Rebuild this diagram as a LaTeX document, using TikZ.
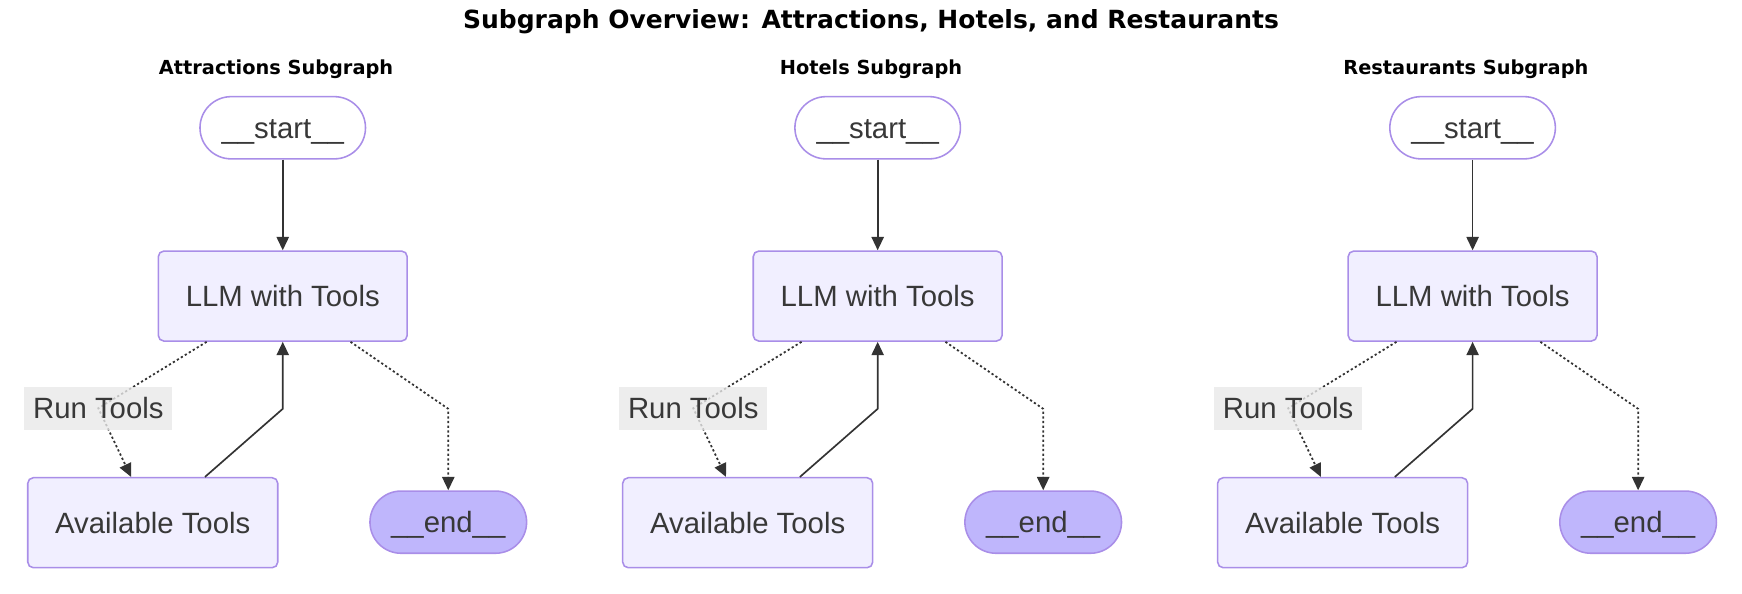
\documentclass[tikz,border=0pt]{standalone}
\usepackage{fontspec}
\setmainfont{Liberation Sans}
\newfontfamily\titlefont{DejaVu Sans}
\usetikzlibrary{arrows.meta,calc}
\definecolor{nodefill}{HTML}{F1EFFF}
\definecolor{nodestroke}{HTML}{A98EE8}
\definecolor{endfill}{HTML}{BFB6FC}
\definecolor{edgecol}{HTML}{333333}
\definecolor{labelbg}{HTML}{E8E8E8}
\definecolor{txt}{HTML}{383838}
\tikzset{
  x=1pt, y=1pt,
  base/.style={draw=nodestroke, line width=1.4pt, text=txt, inner sep=0pt,
    font=\fontsize{26.4}{30}\selectfont, text height=19pt, text depth=0pt},
  boxnode/.style={base, fill=nodefill, rounded corners=5pt, minimum width=224pt, minimum height=81pt},
  startnode/.style={base, fill=white, rounded corners=28pt, minimum width=149pt, minimum height=56pt},
  endnode/.style={base, fill=endfill, rounded corners=28pt, minimum width=141pt, minimum height=56pt},
  lbl/.style={fill=labelbg, fill opacity=0.8, text opacity=1, text=txt, inner sep=0pt,
    minimum width=133pt, minimum height=39pt, font=\fontsize{26.4}{30}\selectfont,
    text height=19pt, text depth=0pt},
  edge/.style={draw=edgecol, line width=1.5pt, -{Triangle[length=12pt,width=11pt]}},
  dotedge/.style={edge, line width=1.6pt, dash pattern=on 2pt off 2.2pt},
  subtitle/.style={font=\titlefont\bfseries\fontsize{17.4}{20}\selectfont, text=black, inner sep=0pt, anchor=base},
}
\newcommand{\subgraphpic}[3]{%
  \begin{scope}[xshift=#1]
    \node[subtitle] (t#2) at (248.5,-67) {#3};
    \node[startnode] (s#2) at (254.5,-115) {\_\_start\_\_};
    \node[boxnode] (l#2) at (254.5,-266.5) {LLM with Tools};
    \node[boxnode, minimum width=225pt] (a#2) at (137.5,-470.5) {Available Tools};
    \node[endnode] (e#2) at (403.5,-470) {\_\_end\_\_};
    \coordinate (b1#2) at (88.5,-367.5);
    \coordinate (b2#2) at (254.5,-368);
    \coordinate (b3#2) at (403.5,-368);
    \draw[edge] (s#2.south) -- (l#2.north);
    \draw[dotedge] ([xshift=-68.5pt]l#2.south) -- (b1#2) -- ([xshift=-19.5pt]a#2.north);
    \draw[edge] ([xshift=47pt]a#2.north) -- (b2#2) -- (l#2.south);
    \draw[dotedge] ([xshift=61pt]l#2.south) -- (b3#2) -- (e#2.north);
    \node[lbl] (r#2) at (b1#2) {Run Tools};
  \end{scope}}
\begin{document}
\begin{tikzpicture}
\useasboundingbox (0,0) rectangle (1568,-534);
\node[font=\titlefont\bfseries\fontsize{22.5}{26}\selectfont, inner sep=0pt, anchor=base] (title) at (784,-26) {Subgraph Overview: Attractions, Hotels, and Restaurants};
\subgraphpic{0pt}{A}{Attractions Subgraph}
\subgraphpic{535.5pt}{H}{Hotels Subgraph}
\subgraphpic{1071pt}{R}{Restaurants Subgraph}
\end{tikzpicture}
\end{document}
